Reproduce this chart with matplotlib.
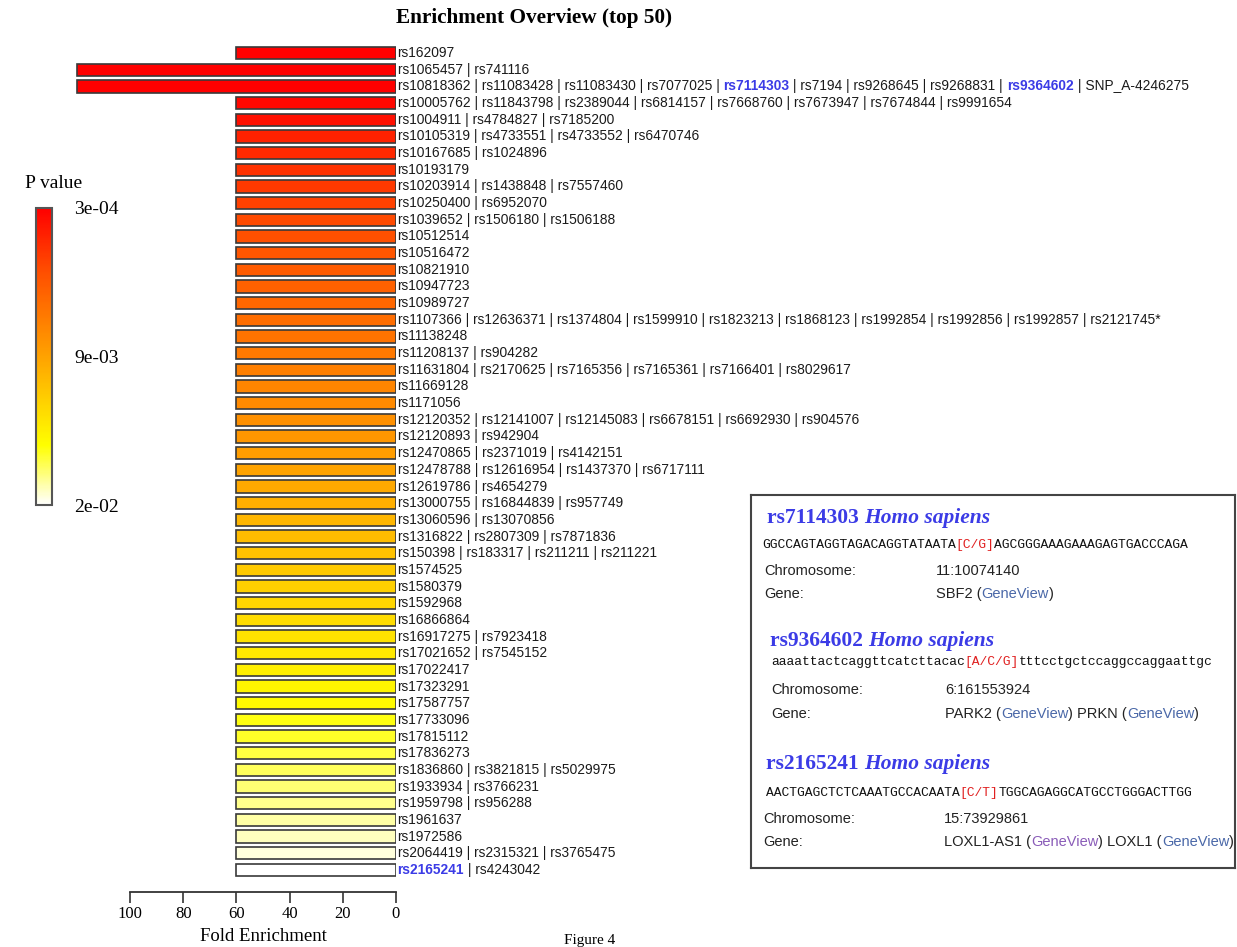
import numpy as np
import matplotlib
matplotlib.use("Agg")
import matplotlib.pyplot as plt
from matplotlib.colors import LinearSegmentedColormap, PowerNorm
from matplotlib.cm import ScalarMappable

W, H = 1237, 947

# SNP groups, top 50 by enrichment
snp_groups = [
    "rs162097",
    "rs1065457 | rs741116",
    "rs10818362 | rs11083428 | rs11083430 | rs7077025 | rs7114303 | rs7194 | rs9268645 | rs9268831 | rs9364602 | SNP_A-4246275",
    "rs10005762 | rs11843798 | rs2389044 | rs6814157 | rs7668760 | rs7673947 | rs7674844 | rs9991654",
    "rs1004911 | rs4784827 | rs7185200",
    "rs10105319 | rs4733551 | rs4733552 | rs6470746",
    "rs10167685 | rs1024896",
    "rs10193179",
    "rs10203914 | rs1438848 | rs7557460",
    "rs10250400 | rs6952070",
    "rs1039652 | rs1506180 | rs1506188",
    "rs10512514",
    "rs10516472",
    "rs10821910",
    "rs10947723",
    "rs10989727",
    "rs1107366 | rs12636371 | rs1374804 | rs1599910 | rs1823213 | rs1868123 | rs1992854 | rs1992856 | rs1992857 | rs2121745*",
    "rs11138248",
    "rs11208137 | rs904282",
    "rs11631804 | rs2170625 | rs7165356 | rs7165361 | rs7166401 | rs8029617",
    "rs11669128",
    "rs1171056",
    "rs12120352 | rs12141007 | rs12145083 | rs6678151 | rs6692930 | rs904576",
    "rs12120893 | rs942904",
    "rs12470865 | rs2371019 | rs4142151",
    "rs12478788 | rs12616954 | rs1437370 | rs6717111",
    "rs12619786 | rs4654279",
    "rs13000755 | rs16844839 | rs957749",
    "rs13060596 | rs13070856",
    "rs1316822 | rs2807309 | rs7871836",
    "rs150398 | rs183317 | rs211211 | rs211221",
    "rs1574525",
    "rs1580379",
    "rs1592968",
    "rs16866864",
    "rs16917275 | rs7923418",
    "rs17021652 | rs7545152",
    "rs17022417",
    "rs17323291",
    "rs17587757",
    "rs17733096",
    "rs17815112",
    "rs17836273",
    "rs1836860 | rs3821815 | rs5029975",
    "rs1933934 | rs3766231",
    "rs1959798 | rs956288",
    "rs1961637",
    "rs1972586",
    "rs2064419 | rs2315321 | rs3765475",
    "rs2165241 | rs4243042",
]

fold_enrichment = [60, 120, 120] + [60] * 47

p_values = [
    0.00030, 0.00031, 0.00031, 0.00052, 0.00078, 0.00150, 0.00180, 0.00215, 0.00250, 0.00290,
    0.00327, 0.00362, 0.00398, 0.00435, 0.00470, 0.00508, 0.00545, 0.00585, 0.00622, 0.00660,
    0.00700, 0.00740, 0.00780, 0.00820, 0.00862, 0.00905, 0.00948, 0.00990, 0.01035, 0.01080,
    0.01120, 0.01165, 0.01208, 0.01252, 0.01296, 0.01340, 0.01385, 0.01430, 0.01475, 0.01520,
    0.01565, 0.01610, 0.01655, 0.01700, 0.01745, 0.01790, 0.01835, 0.01880, 0.01935, 0.02000,
]

highlighted = ["rs7114303", "rs9364602", "rs2165241"]

pval_ticks = [3e-4, 9e-3, 2e-2]
pval_ticklabels = ["3e-04", "9e-03", "2e-02"]
fold_ticks = [100, 80, 60, 40, 20, 0]

SANS = "Liberation Sans"
SERIF = "Liberation Serif"
MONO = "Liberation Mono"
BLUE = "#3b3be6"
LINK = "#4a68a8"
LINK_VISITED = "#8a5cb8"
RED = "#e02020"

cmap = LinearSegmentedColormap.from_list(
    "pval",
    [(0.0, "#ff0000"), (0.2, "#ff4a00"), (0.5, "#ffa200"), (0.8, "#ffff00"), (1.0, "#ffffff")],
)
norm = PowerNorm(gamma=0.85, vmin=3e-4, vmax=2e-2)


def chain(ax, xy, coords, parts, **common):
    """Draw differently styled text pieces one after another on one line."""
    prev = None
    for text, style in parts:
        kw = dict(common)
        kw.update(style)
        if prev is None:
            prev = ax.annotate(text, xy=xy, xycoords=coords, ha="left", va="center",
                               annotation_clip=False, **kw)
        else:
            prev = ax.annotate(text, xy=(1, 0), xycoords=prev, ha="left", va="bottom",
                               annotation_clip=False, **kw)
    return prev


def label_parts(group):
    parts = []
    buf = ""
    for k, snp in enumerate(group.split(" | ")):
        sep = " | " if k else ""
        if snp in highlighted:
            buf += sep
            if buf:
                parts.append((buf, {"color": "#1a1a1a"}))
            buf = ""
            parts.append((snp, {"color": BLUE, "fontweight": "bold"}))
        else:
            buf += sep + snp
    if buf:
        parts.append((buf, {"color": "#1a1a1a"}))
    return parts


def ffrac(x, y):
    return (x / W, 1 - y / H)


fig = plt.figure(figsize=(W / 100, H / 100), dpi=100)

# main bar chart, fold enrichment grows to the left
ax = fig.add_axes([70 / W, 1 - 892 / H, 326 / W, 847 / H])
ypos = np.arange(len(snp_groups))
ax.barh(ypos, fold_enrichment, height=0.74, color=cmap(norm(np.array(p_values))),
        edgecolor="#3a3a3a", linewidth=1.2)
ax.set_xlim(122.6, 0)
ax.set_ylim(len(snp_groups) - 1 + 1.32, -0.48)
for side in ("top", "right", "left"):
    ax.spines[side].set_visible(False)
ax.spines["bottom"].set_bounds(0, 100)
ax.spines["bottom"].set_color("#333333")
ax.spines["bottom"].set_linewidth(1.3)
ax.set_yticks([])
ax.set_xticks(fold_ticks)
ax.set_xticklabels([str(t) for t in fold_ticks], fontfamily=SERIF, fontsize=12)
ax.tick_params(axis="x", direction="out", length=8, width=1.2, color="#333333", pad=2)
ax.text(50, -0.052, "Fold Enrichment", transform=ax.get_xaxis_transform(),
        ha="center", va="center", fontfamily=SERIF, fontsize=13.5)

for i, group in enumerate(snp_groups):
    chain(ax, (-0.6, i), "data", label_parts(group), fontfamily=SANS, fontsize=9.9)

fig.text(*ffrac(534, 18), "Enrichment Overview (top 50)", ha="center", va="center",
         fontfamily=SERIF, fontweight="bold", fontsize=15.3)
fig.text(*ffrac(590, 940), "Figure 4", ha="center", va="center",
         fontfamily=SERIF, fontsize=11)

# p-value colour bar
fig.text(*ffrac(25, 183), "P value", ha="left", va="center", fontfamily=SERIF, fontsize=14)
cax = fig.add_axes([36 / W, 1 - 505 / H, 16 / W, 297 / H])
sm = ScalarMappable(norm=norm, cmap=cmap)
cb = fig.colorbar(sm, cax=cax, ticks=pval_ticks)
cb.ax.set_yticklabels(pval_ticklabels, fontfamily=SERIF, fontsize=14)
cb.ax.invert_yaxis()
cb.ax.tick_params(length=0, pad=16)
cb.outline.set_edgecolor("#555555")
cb.outline.set_linewidth(1.5)

# SNP detail panel
box = fig.add_axes([751 / W, 1 - 868 / H, 484 / W, 373 / H])
box.set_xticks([])
box.set_yticks([])
for s in box.spines.values():
    s.set_color("#444444")
    s.set_linewidth(1.5)

dark = {"color": "#222222"}
snp_cards = [
    ("rs7114303", 767, 518, 762, 545,
     ("GGCCAGTAGGTAGACAGGTATAATA", "[C/G]", "AGCGGGAAAGAAAGAGTGACCCAGA"),
     "11:10074140", 936, 571, 594,
     [("SBF2 (", dark), ("GeneView", {"color": LINK}), (")", dark)]),
    ("rs9364602", 770, 641, 771, 662,
     ("aaaattactcaggttcatcttacac", "[A/C/G]", "tttcctgctccaggccaggaattgc"),
     "6:161553924", 945, 690, 714,
     [("PARK2 (", dark), ("GeneView", {"color": LINK}), (") PRKN (", dark),
      ("GeneView", {"color": LINK}), (")", dark)]),
    ("rs2165241", 766, 764, 766, 793,
     ("AACTGAGCTCTCAAATGCCACAATA", "[C/T]", "TGGCAGAGGCATGCCTGGGACTTGG"),
     "15:73929861", 944, 819, 842,
     [("LOXL1-AS1 (", dark), ("GeneView", {"color": LINK_VISITED}), (") LOXL1 (", dark),
      ("GeneView", {"color": LINK}), (")", dark)]),
]

for snp, hx, hy, sx, sy, seq, chrom, vx, cy, gy, gene_parts in snp_cards:
    chain(box, ffrac(hx, hy), "figure fraction",
          [(snp + " ", {"fontweight": "bold"}),
           ("Homo sapiens", {"fontweight": "bold", "fontstyle": "italic"})],
          fontfamily=SERIF, fontsize=15.5, color=BLUE)
    chain(box, ffrac(sx, sy), "figure fraction",
          [(seq[0], {"color": "#111111"}), (seq[1], {"color": RED}), (seq[2], {"color": "#111111"})],
          fontfamily=MONO, fontsize=9.4)
    lx = hx - 3 if snp != "rs9364602" else hx + 1
    box.annotate("Chromosome:", xy=ffrac(lx, cy), xycoords="figure fraction", va="center",
                 fontfamily=SANS, fontsize=10.5, color="#222222")
    box.annotate(chrom, xy=ffrac(vx, cy), xycoords="figure fraction", va="center",
                 fontfamily=SANS, fontsize=10.5, color="#222222")
    box.annotate("Gene:", xy=ffrac(lx, gy), xycoords="figure fraction", va="center",
                 fontfamily=SANS, fontsize=10.5, color="#222222")
    chain(box, ffrac(vx, gy), "figure fraction", gene_parts, fontfamily=SANS, fontsize=10.5)

fig.savefig("out.png", dpi=100)
